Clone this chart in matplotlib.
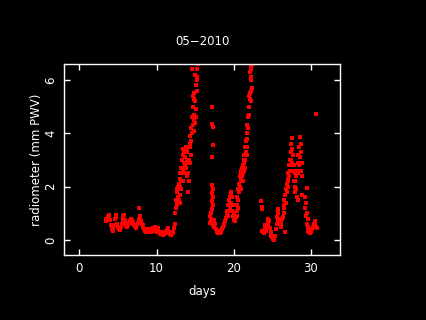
import numpy as np
import matplotlib.pyplot as plt

# radiometer PWV readings for May 2010
# quiet stretch, days 3.4 - 12.3
base_day = [3.4, 3.5, 3.6, 3.7, 3.8, 3.9, 4.0, 4.1, 4.2, 4.3, 4.4, 4.5, 4.6, 4.7, 4.8, 4.9,
            5.0, 5.1, 5.2, 5.3, 5.4, 5.5, 5.6, 5.7, 5.8, 5.9, 6.0, 6.1, 6.2, 6.3, 6.4, 6.5,
            6.6, 6.7, 6.8, 6.9, 7.0, 7.1, 7.2, 7.3, 7.4, 7.5, 7.6, 7.7, 7.8, 7.9, 8.0, 8.1,
            8.2, 8.3, 8.4, 8.5, 8.6, 8.7, 8.8, 8.9, 9.0, 9.1, 9.2, 9.3, 9.4, 9.5, 9.6, 9.7,
            9.8, 9.9, 10.0, 10.1, 10.2, 10.3, 10.4, 10.5, 10.6, 10.7, 10.8, 10.9, 11.0, 11.1,
            11.2, 11.3, 11.4, 11.5, 11.6, 11.7, 11.8, 11.9, 12.0, 12.1, 12.2, 12.3, 7.7]
base_pwv = [0.78, 0.72, 0.80, 0.85, 0.95, 0.90, 0.75, 0.55, 0.40, 0.35, 0.42, 0.55, 0.80, 0.95, 0.85, 0.60,
            0.48, 0.40, 0.38, 0.45, 0.50, 0.60, 0.75, 0.92, 0.95, 0.75, 0.60, 0.52, 0.50, 0.58, 0.65, 0.70,
            0.72, 0.78, 0.75, 0.68, 0.62, 0.58, 0.52, 0.48, 0.45, 0.55, 0.65, 0.80, 0.92, 0.85, 0.70, 0.60,
            0.55, 0.50, 0.40, 0.35, 0.38, 0.32, 0.40, 0.35, 0.30, 0.42, 0.35, 0.30, 0.38, 0.45, 0.35, 0.40,
            0.48, 0.38, 0.32, 0.40, 0.45, 0.30, 0.25, 0.22, 0.30, 0.25, 0.20, 0.28, 0.22, 0.30,
            0.25, 0.38, 0.30, 0.45, 0.32, 0.25, 0.22, 0.20, 0.25, 0.28, 0.30, 0.45, 1.20]

# first wet spell, days 12.4 - 15.4  (day, pwv)
wet1 = [(12.4, 0.6), (12.4, 1.0), (12.5, 1.2), (12.5, 1.5), (12.6, 1.4), (12.6, 1.8),
        (12.7, 1.3), (12.7, 1.9), (12.8, 1.6), (12.8, 2.0), (12.9, 1.5), (12.9, 2.1),
        (13.0, 1.7), (13.0, 2.3), (13.1, 2.0), (13.1, 2.5), (13.2, 2.2), (13.2, 2.7),
        (13.3, 2.5), (13.3, 3.0), (13.4, 2.7), (13.4, 3.2), (13.5, 2.6), (13.5, 3.4),
        (13.6, 2.9), (13.6, 3.3), (13.7, 2.8), (13.7, 3.1), (13.8, 2.7), (13.8, 3.5),
        (13.9, 3.0), (13.9, 3.3), (14.0, 2.4), (14.0, 2.9), (14.1, 1.8), (14.1, 2.5),
        (14.2, 2.2), (14.2, 3.0), (14.3, 2.9), (14.3, 3.6), (14.4, 3.5), (14.4, 3.9),
        (14.5, 3.7), (14.5, 4.2), (14.6, 4.0), (14.6, 4.6), (14.7, 4.3), (14.7, 5.0),
        (14.8, 4.5), (14.8, 5.3), (14.9, 4.7), (14.9, 5.5), (15.0, 4.4), (15.0, 5.2),
        (15.1, 4.9), (15.1, 5.8), (15.2, 5.6), (15.2, 6.1), (15.3, 6.0), (15.3, 6.4),
        (15.4, 6.6), (14.6, 6.4), (14.75, 5.4), (15.3, 6.8),
        (13.0, 1.4), (13.2, 1.9), (13.5, 2.2), (13.7, 2.5), (14.0, 3.4), (14.5, 3.2),
        (14.9, 4.1), (15.1, 4.6), (15.0, 6.2)]

# second wet spell, days 17.0 - 22.5
wet2 = [(17.2, 5.0), (17.25, 4.35), (17.3, 4.25), (17.3, 3.55), (17.25, 3.1), (17.25, 2.07),
        (17.3, 1.9), (17.25, 1.75), (17.3, 1.6), (17.25, 1.45), (17.3, 1.3), (17.25, 1.15),
        (17.1, 1.0), (17.0, 0.9), (17.1, 0.8), (17.0, 0.65), (17.2, 0.7), (17.3, 0.55),
        (17.4, 0.75), (17.5, 0.5), (17.6, 0.6), (17.7, 0.4), (17.8, 0.35), (17.9, 0.3),
        (18.0, 0.26), (18.1, 0.3), (18.2, 0.28), (18.3, 0.32), (18.4, 0.36), (18.5, 0.42),
        (18.6, 0.48), (18.7, 0.55), (18.8, 0.62), (18.9, 0.7), (19.0, 0.82), (19.1, 0.95),
        (19.2, 1.1), (19.3, 1.3), (19.3, 0.9), (19.4, 1.5), (19.4, 1.1), (19.5, 1.6),
        (19.5, 1.2), (19.6, 1.75), (19.6, 1.4), (19.7, 1.8), (19.7, 1.3), (19.8, 1.6),
        (19.8, 1.1), (19.9, 1.3), (19.9, 0.9), (20.0, 1.0), (20.0, 0.75), (20.1, 0.8),
        (20.2, 0.7), (20.3, 0.85), (20.4, 1.1), (20.4, 0.9), (20.5, 1.3), (20.5, 1.6),
        (20.6, 1.5), (20.6, 1.9), (20.7, 1.8), (20.7, 2.1), (20.8, 2.0), (20.8, 2.4),
        (20.9, 2.3), (20.9, 1.9), (21.0, 2.5), (21.0, 2.2), (21.1, 2.7), (21.1, 2.4),
        (21.2, 2.8), (21.2, 2.5), (21.3, 3.0), (21.3, 2.6), (21.4, 3.2), (21.4, 2.9),
        (21.5, 3.5), (21.5, 3.0), (21.6, 3.7), (21.6, 3.3), (21.7, 4.0), (21.7, 3.5),
        (21.8, 4.3), (21.8, 3.8), (21.9, 4.6), (21.9, 4.2), (22.0, 5.0), (22.0, 4.7),
        (22.1, 5.3), (22.1, 5.5), (22.2, 5.6), (22.2, 6.1), (22.1, 6.3), (22.2, 6.5),
        (22.3, 6.4), (22.3, 5.2), (22.4, 5.7), (22.5, 6.6),
        (19.5, 1.4), (19.7, 1.6), (20.6, 1.2), (20.9, 2.6), (21.2, 2.2), (21.5, 2.7),
        (21.8, 3.2), (22.0, 5.4), (22.3, 6.0)]

# third wet spell, days 23.6 - 30.8
wet3 = [(23.6, 1.48), (23.65, 1.25), (23.7, 1.15), (23.7, 0.35), (23.8, 0.3), (23.9, 0.25),
        (24.0, 0.3), (24.1, 0.4), (24.1, 0.55), (24.2, 0.35), (24.3, 0.5), (24.4, 0.65),
        (24.5, 0.8), (24.5, 0.6), (24.6, 0.7), (24.7, 0.45), (24.8, 0.3), (24.9, 0.15),
        (25.0, 0.1), (25.1, 0.05), (25.2, 0.02), (25.3, 0.05), (25.4, 0.15), (25.5, 0.4),
        (25.6, 0.6), (25.6, 0.85), (25.7, 0.75), (25.8, 1.0), (25.8, 1.15), (25.9, 0.8),
        (26.0, 0.6), (26.1, 0.5), (26.2, 0.65), (26.3, 0.8), (26.4, 0.85), (26.5, 1.0),
        (26.5, 1.3), (26.6, 1.5), (26.6, 1.2), (26.7, 0.3), (26.7, 1.7), (26.8, 1.9),
        (26.8, 1.4), (26.9, 2.1), (26.9, 1.8), (27.0, 2.3), (27.0, 2.0), (27.1, 2.5),
        (27.1, 2.2), (27.2, 2.8), (27.2, 2.4), (27.3, 3.0), (27.3, 2.6), (27.4, 3.3),
        (27.4, 2.8), (27.5, 3.6), (27.5, 3.0), (27.55, 3.83), (27.6, 3.4), (27.6, 2.9),
        (27.7, 3.2), (27.7, 2.6), (27.8, 2.8), (27.8, 2.2), (27.9, 2.5), (27.9, 2.0),
        (28.0, 2.2), (28.0, 1.8), (28.1, 1.9), (28.1, 2.4), (28.2, 2.6), (28.2, 1.6),
        (28.3, 2.9), (28.3, 2.5), (28.4, 3.2), (28.4, 1.5), (28.5, 3.5), (28.5, 2.8),
        (28.6, 3.88), (28.6, 3.1), (28.7, 3.6), (28.7, 2.9), (28.8, 3.3), (28.8, 2.6),
        (28.9, 2.9), (28.9, 2.4), (28.85, 1.7), (29.3, 1.6), (29.3, 1.2), (29.4, 1.4),
        (29.4, 0.9), (29.5, 1.96), (29.5, 1.0), (29.5, 0.6), (29.6, 0.8), (29.6, 0.45),
        (29.7, 0.5), (29.7, 0.35), (29.8, 0.3), (29.9, 0.27), (30.0, 0.3), (30.1, 0.35),
        (30.2, 0.4), (30.3, 0.5), (30.4, 0.6), (30.5, 0.7), (30.6, 0.6), (30.7, 0.5),
        (30.8, 0.45), (30.7, 4.73)]

fig = plt.figure(figsize=(4.26, 3.2), dpi=100, facecolor='black')
ax = fig.add_axes([64/426, 65/320, 276/426, 191/320], facecolor='black')

ax.plot(base_day, base_pwv, 's', color='red', ms=2.6, mew=0)
for seg in (wet1, wet2, wet3):
    d, p = zip(*seg)
    ax.plot(d, p, 's', color='red', ms=2.6, mew=0)

ax.set_xlim(-2, 33.8)
ax.set_ylim(-0.56, 6.6)
ax.set_xticks([0, 10, 20, 30])
ax.set_yticks([0, 2, 4, 6])

for s in ax.spines.values():
    s.set_color('white')
    s.set_linewidth(1.0)
ax.tick_params(direction='in', length=4, width=1, colors='white', labelsize=8.5,
               top=True, right=True, pad=5)
ax.tick_params(axis='y', labelrotation=90)
for lbl in ax.get_yticklabels():
    lbl.set_va('center')

ax.set_title('05\u22122010', color='white', fontsize=8.5, pad=14)
ax.set_xlabel('days', color='white', fontsize=8.5, labelpad=7)
ax.set_ylabel('radiometer (mm PWV)', color='white', fontsize=8.5, labelpad=1)

fig.savefig('out.png', dpi=100, facecolor='black')
